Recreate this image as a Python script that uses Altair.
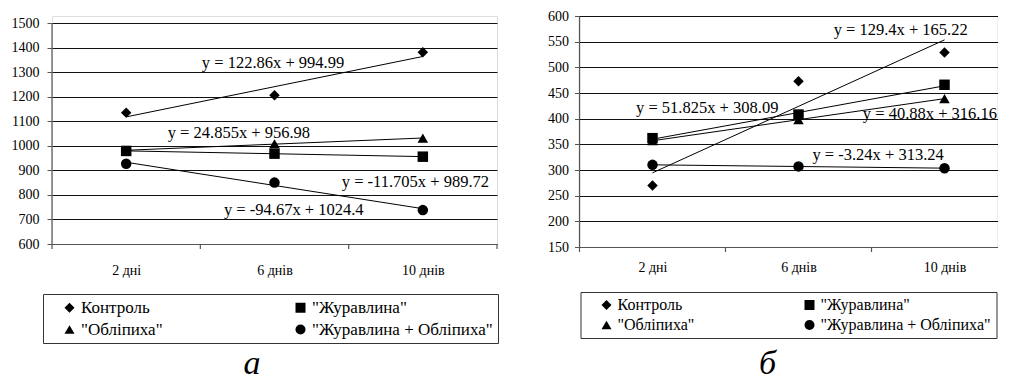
import altair as alt
import pandas as pd

# ---------------- data ----------------
series_names = ["Контроль", '"Журавлина"', '"Обліпиха"', '"Журавлина + Обліпиха"']
day_labels = ["2 дні", "6 днів", "10 днів"]
day_index = [1, 2, 3]
band_edges = [0.5, 1.5, 2.5, 3.5]

# panel a
a_control = [1135, 1206, 1381]
a_cranberry = [979, 968, 955.6]
a_buckthorn = [981, 1008, 1031]
a_mix = [927, 850, 738]
a_ticks = [600, 700, 800, 900, 1000, 1100, 1200, 1300, 1400, 1500]
a_equations = ["y = 122.86x + 994.99", "y = 24.855x + 956.98",
               "y = -11.705x + 989.72", "y = -94.67x + 1024.4"]
a_eq_x = [1.99, 1.76, 2.95, 2.13]
a_eq_y = [1339, 1052, 851, 739]

# panel б
b_control = [270, 473, 529]
b_cranberry = [362, 408, 466]
b_buckthorn = [357, 398, 439]
b_mix = [310, 307, 303.5]
b_ticks = [150, 200, 250, 300, 350, 400, 450, 500, 550, 600]
b_equations = ["y = 129.4x + 165.22", "y = 51.825x + 308.09",
               "y = 40.88x + 316.16", "y = -3.24x + 313.24"]
b_eq_x = [2.70, 1.375, 2.90, 2.545]
b_eq_y = [573, 421, 410, 330]

FONT = "Liberation Serif"
SHAPES = ["diamond", "square", "triangle-up", "circle"]


def long_table(series_values):
    rows = []
    for name, vals in zip(series_names, series_values):
        for i, v in zip(day_index, vals):
            rows.append({"series": name, "idx": i, "value": v})
    return pd.DataFrame(rows)


label_expr = " : ".join(
    f"datum.value == {i} ? '{lab}'" for i, lab in zip(day_index[:-1], day_labels[:-1])
) + f" : '{day_labels[-1]}'"


def panel(values, ticks, eqs, eq_x, eq_y, width, height, head_px, x_max, ypad, xpad,
          legend_x, legend_y, col_pad, legend_font, caption, cap_x, cap_y):
    df = long_table(values)
    plot_h = height - head_px
    head_val = (ticks[-1] - ticks[0]) * head_px / plot_h
    xscale = alt.Scale(domain=[0.5, x_max], nice=False, zero=False)
    yscale = alt.Scale(domain=[ticks[0], ticks[-1] + head_val], nice=False, zero=False)
    xaxis = alt.Axis(values=day_index, labelExpr=label_expr, tickSize=0, grid=False,
                     domainColor="#555", domainWidth=1.2, labelPadding=xpad,
                     labelFont=FONT, labelFontSize=14, labelColor="black", title=None,
                     labelOverlap=False)
    yaxis = alt.Axis(values=ticks, format="d", tickSize=5, tickColor="#555",
                     domain=False, grid=True, gridColor="#111",
                     gridWidth=1, labelPadding=ypad, labelFont=FONT, labelFontSize=14,
                     labelColor="black", title=None, labelOverlap=False)
    X = lambda f: alt.X(f, scale=xscale, axis=xaxis)
    Y = lambda f: alt.Y(f, scale=yscale, axis=yaxis)
    base = alt.Chart(df)

    trend = base.transform_regression("idx", "value", groupby=["series"]).mark_line(
        color="black", strokeWidth=1
    ).encode(x=X("idx:Q"), y=Y("value:Q"), detail="series:N")

    points = base.mark_point(filled=True, color="black", opacity=1, size=110).encode(
        x=X("idx:Q"),
        y=Y("value:Q"),
        shape=alt.Shape(
            "series:N",
            scale=alt.Scale(domain=series_names, range=SHAPES),
            sort=series_names,
            legend=alt.Legend(
                orient="none", legendX=legend_x, legendY=legend_y, columns=2,
                direction="horizontal",
                title=None, labelFont=FONT, labelFontSize=legend_font,
                labelColor="black", labelLimit=0, strokeColor="#333", padding=5,
                symbolOffset=13, columnPadding=col_pad, rowPadding=4, symbolSize=100,
                symbolFillColor="black", symbolStrokeColor="black",
                symbolStrokeWidth=0, labelOffset=3,
            ),
        ),
    )

    yline = alt.Chart(pd.DataFrame({"lo": [ticks[0]], "hi": [ticks[-1]]})).mark_rule(
        color="#555", strokeWidth=1.2
    ).encode(x=alt.value(0), y=Y("hi:Q"), y2="lo:Q")

    edges = alt.Chart(pd.DataFrame({"e": band_edges})).transform_filter(
        alt.datum.e <= x_max
    ).mark_rule(color="#555", strokeWidth=1.2).encode(
        x=X("e:Q"), y=alt.value(height), y2=alt.value(height + 5))

    eq_df = pd.DataFrame({"t": eqs, "x": eq_x, "y": eq_y})
    eq_text = alt.Chart(eq_df).mark_text(
        font=FONT, fontSize=16.5, color="black"
    ).encode(x=X("x:Q"), y=Y("y:Q"), text="t:N")

    cap = alt.Chart(pd.DataFrame({"t": [caption]})).mark_text(
        font=FONT, fontSize=34, fontStyle="italic", color="black", baseline="alphabetic"
    ).encode(x=alt.value(cap_x), y=alt.value(cap_y), text="t:N")

    return alt.layer(yline, trend, edges, points, eq_text, cap).properties(
        width=width, height=height)


left = panel([a_control, a_cranberry, a_buckthorn, a_mix], a_ticks, a_equations,
             a_eq_x, a_eq_y, 445, 228, 7, 3.5, 8, 19, -9, 278, 116, 17,
             "а", 200, 358)
right = panel([b_control, b_cranberry, b_buckthorn, b_mix], b_ticks, b_equations,
              b_eq_x, b_eq_y, 418, 231, 0, 3.363, 6, 13, 1, 276, 94, 16,
              "б", 188, 358)

chart = alt.hconcat(left, right, spacing=47.5).resolve_scale(
    shape="independent"
).resolve_legend(shape="independent").properties(
    padding={"left": 2, "top": 0, "right": 0, "bottom": 0}
).configure_view(stroke=None).configure(font=FONT)

chart.save("out.html", embed_options={"renderer": "svg", "actions": False})
